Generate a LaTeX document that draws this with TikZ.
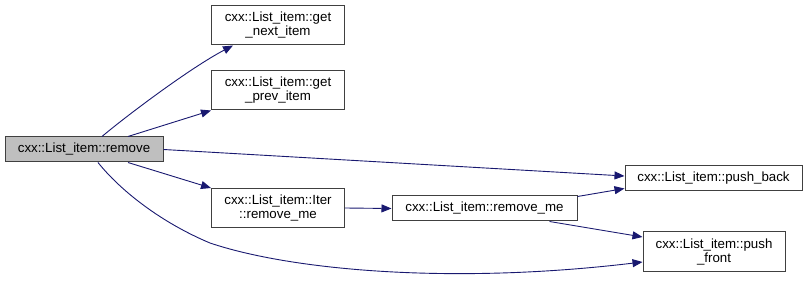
\documentclass[tikz,border=0pt]{standalone}
\usepackage{fontspec}
\setmainfont{Liberation Sans}
\usetikzlibrary{arrows.meta}
\definecolor{edgeblue}{HTML}{191970}
\definecolor{boxline}{HTML}{404040}
\begin{document}
\begin{tikzpicture}[x=1pt,y=-1pt,
  fn/.style={draw=boxline,line width=1pt,fill=white,inner sep=0pt,align=center,
    font=\fontsize{13.3}{14}\selectfont,text=black},
  cur/.style={fn,fill=black!25},
  call/.style={draw=edgeblue,line width=0.9pt,-{Triangle[length=10pt,width=8pt]}}]
\useasboundingbox (0,0) rectangle (809,283);

% function boxes
\node[cur,minimum width=158pt,minimum height=25pt] (remove) at (84,149.5) {cxx::List\_item::remove};
\node[fn,minimum width=133pt,minimum height=39pt] (next) at (278,25.5) {cxx::List\_item::get\\\_next\_item};
\node[fn,minimum width=133pt,minimum height=39pt] (prev) at (278,90.5) {cxx::List\_item::get\\\_prev\_item};
\node[fn,minimum width=133pt,minimum height=39pt] (iter) at (278,208) {cxx::List\_item::Iter\\::remove\_me};
\node[fn,minimum width=185pt,minimum height=25pt] (rme) at (484.5,208.5) {cxx::List\_item::remove\_me};
\node[fn,minimum width=177pt,minimum height=25pt] (pback) at (713.5,178.5) {cxx::List\_item::push\_back};
\node[fn,minimum width=142pt,minimum height=40pt] (pfront) at (714,252) {cxx::List\_item::push\\\_front};

% call edges
\draw[call] ([xshift=18pt]remove.north) .. controls (125,117) and (190,68) .. ([xshift=-45pt]next.south);
\draw[call] ([xshift=44pt]remove.north) -- (prev.south west);
\draw[call] (remove.east) -- ([yshift=2.5pt]pback.west);
\draw[call] ([xshift=44pt]remove.south) -- (iter.north west);
\draw[call] (iter.east) -- (rme.west);
\draw[call] ([yshift=-1pt]rme.north east) -- ([yshift=-10pt]pback.west);
\draw[call] ([xshift=65pt]rme.south) -- ([yshift=15pt]pfront.west);
\draw[call] ([xshift=14pt]remove.south) .. controls (120,190) and (160,222) .. (210,243)
  .. controls (290,270) and (450,285) .. ([yshift=-10pt]pfront.west);
\end{tikzpicture}
\end{document}
